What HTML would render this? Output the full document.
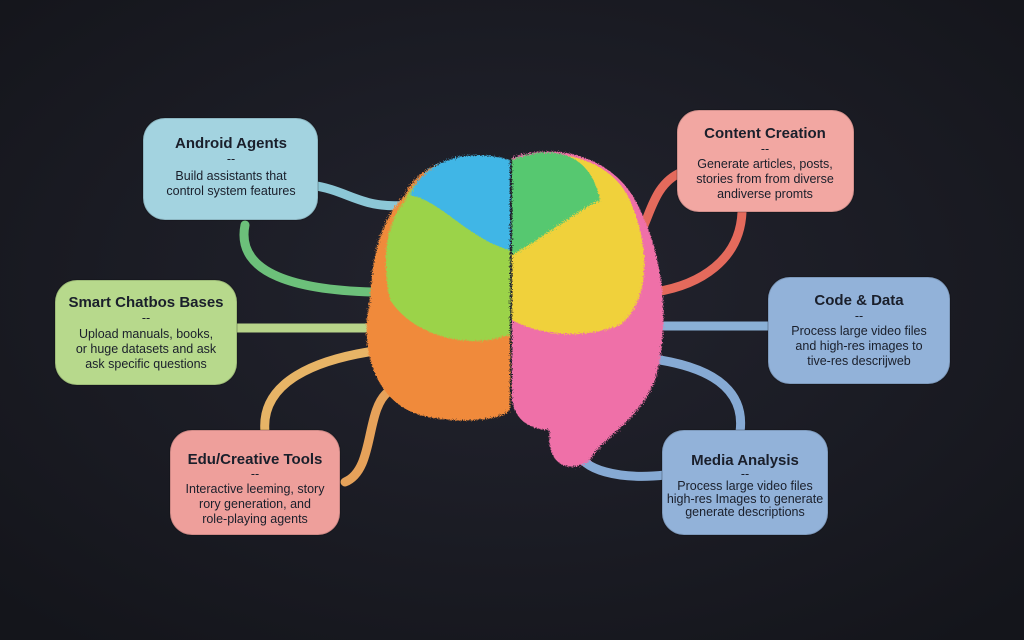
<!DOCTYPE html>
<html><head><meta charset="utf-8"><style>
html,body{margin:0;padding:0;background:#1a1b23;}
svg{display:block}
text{font-family:"Liberation Sans",sans-serif;text-anchor:middle;fill:#1a1f2b}
.t{font-weight:bold;font-size:15px}
</style></head><body>
<svg width="1024" height="640" viewBox="0 0 1024 640" xmlns="http://www.w3.org/2000/svg">
<defs>
<radialGradient id="bg" cx="50%" cy="45%" r="70%"><stop offset="0" stop-color="#23242f"/><stop offset="1" stop-color="#14151b"/></radialGradient>
<filter id="fz"><feTurbulence type="fractalNoise" baseFrequency="0.9" numOctaves="2" result="n"/><feDisplacementMap in="SourceGraphic" in2="n" scale="6"/></filter>
</defs>
<rect width="1024" height="640" fill="url(#bg)"/>
<g fill="none" stroke-linecap="round" stroke-width="9">
<path d="M310 185 C350 190,360 210,410 205" stroke="#8cc7d6"/>
<path d="M245 225 C235 275,300 290,372 292" stroke="#6cc07a"/>
<path d="M235 328 L368 328" stroke="#b8d48a"/>
<path d="M265 432 C260 380,320 360,368 352" stroke="#e7b466"/>
<path d="M345 482 C375 470,365 410,388 392" stroke="#e6a25a"/>
<path d="M682 172 C650 185,650 225,635 240" stroke="#e46a5c"/>
<path d="M742 212 C740 260,700 285,655 292" stroke="#e46a5c"/>
<path d="M770 326 L658 326" stroke="#8ab0d6"/>
<path d="M660 360 C720 370,745 395,740 432" stroke="#86aad4"/>
<path d="M665 475 C620 480,580 470,578 450" stroke="#86aad4"/>
</g>
<g filter="url(#fz)">
<path d="M510 160 C470 150,420 160,405 195 C375 225,372 270,370 300 C360 340,370 400,420 415 C460 425,500 420,510 410 Z" fill="#f08a3a"/>
<path d="M510 165 C470 155,420 165,405 200 C385 225,382 260,390 300 C410 330,450 345,490 340 L510 335 Z" fill="#9bd34a"/>
<path d="M510 160 C470 148,425 158,410 195 C440 200,470 240,510 250 Z" fill="#3fb6e6"/>
<path d="M512 158 C560 140,620 160,640 210 C665 260,670 330,655 380 C640 420,600 440,590 460 C570 475,545 465,550 430 C530 430,515 420,512 400 Z" fill="#ef6fa8"/>
<path d="M512 160 C560 145,615 160,632 205 C650 250,650 300,620 325 C580 340,540 335,512 320 Z" fill="#f0d13a"/>
<path d="M512 160 C550 145,590 150,600 200 C570 215,540 240,512 255 Z" fill="#56c870"/>
</g>
<g stroke="#00000022" stroke-width="2">
<rect x="143" y="118" width="175" height="102" rx="22" fill="#a3d3e0"/>
<rect x="677" y="110" width="177" height="102" rx="22" fill="#f2a7a2"/>
<rect x="55" y="280" width="182" height="105" rx="22" fill="#b7d98c"/>
<rect x="768" y="277" width="182" height="107" rx="22" fill="#92b2d9"/>
<rect x="170" y="430" width="170" height="105" rx="22" fill="#ee9f9b"/>
<rect x="662" y="430" width="166" height="105" rx="22" fill="#92b2d9"/>
</g>
<g font-size="12.5">
<text x="231" y="148" class="t">Android Agents</text><text x="231" y="163">--</text>
<text x="231" y="180">Build assistants that</text><text x="231" y="195">control system features</text>
<text x="765" y="138" class="t">Content Creation</text><text x="765" y="153">--</text>
<text x="765" y="168">Generate articles, posts,</text><text x="765" y="183">stories from from diverse</text><text x="765" y="198">andiverse promts</text>
<text x="146" y="307" class="t">Smart Chatbos Bases</text><text x="146" y="322">--</text>
<text x="146" y="338">Upload manuals, books,</text><text x="146" y="353">or huge datasets and ask</text><text x="146" y="368">ask specific questions</text>
<text x="859" y="305" class="t">Code &amp; Data</text><text x="859" y="320">--</text>
<text x="859" y="335">Process large video files</text><text x="859" y="350">and high-res images to</text><text x="859" y="365">tive-res descrijweb</text>
<text x="255" y="464" class="t">Edu/Creative Tools</text><text x="255" y="478">--</text>
<text x="255" y="493">Interactive leeming, story</text><text x="255" y="508">rory generation, and</text><text x="255" y="523">role-playing agents</text>
<text x="745" y="465" class="t">Media Analysis</text><text x="745" y="478">--</text>
<text x="745" y="490">Process large video files</text><text x="745" y="503">high-res Images to generate</text><text x="745" y="516">generate descriptions</text>
</g>
</svg>
</body></html>
